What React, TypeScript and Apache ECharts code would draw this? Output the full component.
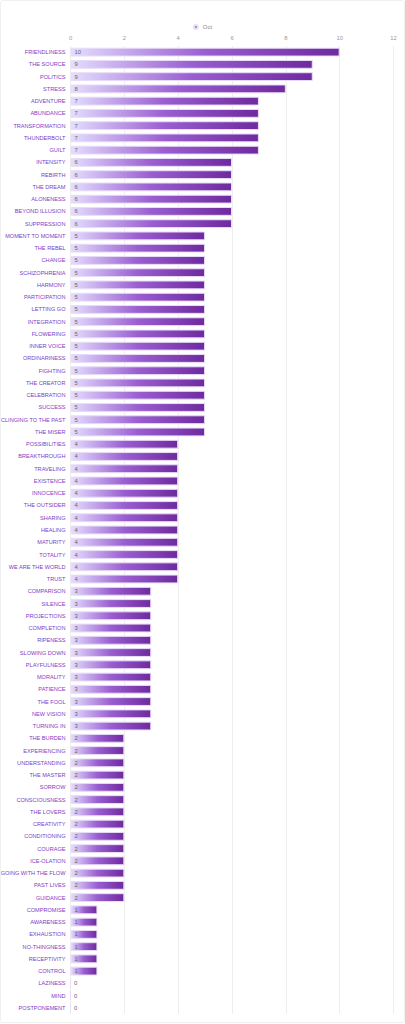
import React, { useEffect, useRef } from "react";
import * as echarts from "echarts";

const categories: string[] = [
  "FRIENDLINESS", "THE SOURCE", "POLITICS", "STRESS", "ADVENTURE", "ABUNDANCE", "TRANSFORMATION",
  "THUNDERBOLT", "GUILT", "INTENSITY", "REBIRTH", "THE DREAM", "ALONENESS", "BEYOND ILLUSION",
  "SUPPRESSION", "MOMENT TO MOMENT", "THE REBEL", "CHANGE", "SCHIZOPHRENIA", "HARMONY",
  "PARTICIPATION", "LETTING GO", "INTEGRATION", "FLOWERING", "INNER VOICE", "ORDINARINESS",
  "FIGHTING", "THE CREATOR", "CELEBRATION", "SUCCESS", "CLINGING TO THE PAST", "THE MISER",
  "POSSIBILITIES", "BREAKTHROUGH", "TRAVELING", "EXISTENCE", "INNOCENCE", "THE OUTSIDER",
  "SHARING", "HEALING", "MATURITY", "TOTALITY", "WE ARE THE WORLD", "TRUST", "COMPARISON",
  "SILENCE", "PROJECTIONS", "COMPLETION", "RIPENESS", "SLOWING DOWN", "PLAYFULNESS", "MORALITY",
  "PATIENCE", "THE FOOL", "NEW VISION", "TURNING IN", "THE BURDEN", "EXPERIENCING",
  "UNDERSTANDING", "THE MASTER", "SORROW", "CONSCIOUSNESS", "THE LOVERS", "CREATIVITY",
  "CONDITIONING", "COURAGE", "ICE-OLATION", "GOING WITH THE FLOW", "PAST LIVES", "GUIDANCE",
  "COMPROMISE", "AWARENESS", "EXHAUSTION", "NO-THINGNESS", "RECEPTIVITY", "CONTROL",
  "LAZINESS", "MIND", "POSTPONEMENT",
];

const octValues: number[] = [
  10, 9, 9, 8, 7, 7, 7, 7, 7, 6, 6, 6, 6, 6, 6,
  5, 5, 5, 5, 5, 5, 5, 5, 5, 5, 5, 5, 5, 5, 5, 5, 5,
  4, 4, 4, 4, 4, 4, 4, 4, 4, 4, 4, 4,
  3, 3, 3, 3, 3, 3, 3, 3, 3, 3, 3, 3,
  2, 2, 2, 2, 2, 2, 2, 2, 2, 2, 2, 2, 2, 2,
  1, 1, 1, 1, 1, 1,
  0, 0, 0,
];

const seriesName = "Oct";

export default function App() {
  const ref = useRef<HTMLDivElement>(null);
  useEffect(() => {
    if (!ref.current) return;
    const chart = echarts.init(ref.current, undefined, { renderer: "svg" });
    const font = "Liberation Sans, Arial, sans-serif";
    chart.setOption({
      animation: false,
      textStyle: { fontFamily: font },
      legend: {
        top: 18,
        left: "center",
        icon: "circle",
        itemWidth: 4,
        itemHeight: 4,
        itemGap: 2,
        textStyle: { fontSize: 6, color: "#888", fontFamily: font },
        data: [seriesName],
      },
      grid: {
        left: 69.5,
        right: 10.5,
        top: 45,
        bottom: 8,
        containLabel: false,
        outerBoundsMode: "none",
      },
      xAxis: {
        type: "value",
        position: "top",
        min: 0,
        max: 12,
        interval: 2,
        axisLine: { show: false },
        axisTick: { show: false },
        axisLabel: { fontSize: 5.8, color: "#999", margin: 5, fontFamily: font },
        splitLine: { lineStyle: { color: "#eeeeee", width: 1 } },
      },
      yAxis: {
        type: "category",
        inverse: true,
        data: categories,
        axisLine: { show: false },
        axisTick: { show: false },
        axisLabel: { fontSize: 5.6, color: "#7d40c6", margin: 5, fontFamily: font },
      },
      series: [
        {
          name: seriesName,
          type: "bar",
          data: octValues,
          barWidth: "72%",
          itemStyle: {
            color: new echarts.graphic.LinearGradient(0, 0, 1, 0, [
              { offset: 0, color: "#e4deff" },
              { offset: 0.5, color: "#9a5ed0" },
              { offset: 1, color: "#6e2a9e" },
            ]),
            borderColor: "#e8dcf8",
            borderWidth: 1,
          },
          label: {
            show: true,
            position: "insideLeft",
            distance: 4,
            fontSize: 5.8,
            color: "#666",
            fontFamily: font,
          },
        },
      ],
    });
    return () => chart.dispose();
  }, []);
  return (
    <div
      style={{
        position: "absolute",
        left: 0,
        top: 0,
        width: 403,
        height: 1021,
        border: "1px solid #f0f0f0",
        borderRadius: 3,
        background: "#fff",
      }}
    >
      <div ref={ref} style={{ width: 403, height: 1021 }} />
    </div>
  );
}
